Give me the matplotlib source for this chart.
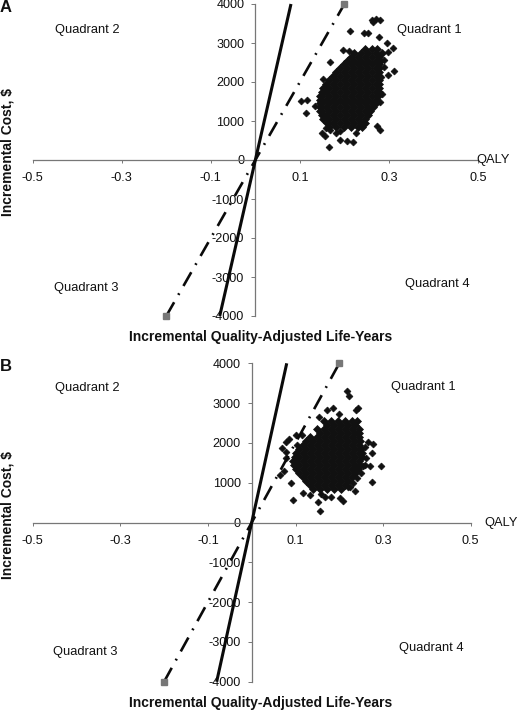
import numpy as np
import matplotlib
matplotlib.use("Agg")
import matplotlib.pyplot as plt

plt.rcParams['font.family'] = ['Liberation Sans', 'DejaVu Sans']
plt.rcParams['axes.unicode_minus'] = False

W, H = 528, 711

x_ticks = [-0.5, -0.3, -0.1, 0.1, 0.3, 0.5]
x_labels = ['-0.5', '-0.3', '-0.1', '0.1', '0.3', '0.5']
y_ticks = [-4000, -3000, -2000, -1000, 0, 1000, 2000, 3000, 4000]
y_labels = ['-4000', '-3000', '-2000', '-1000', '0', '1000', '2000', '3000', '4000']

line_solid_q = [-0.08, 0.08]
line_solid_c = [-4000, 4000]
line_dash_q = [-0.2, 0.2]
line_dash_c = [-4000, 4000]

a_core_costs = [2850, 2750, 2650, 2550, 2450, 2350, 2250, 2150, 2050, 1950, 1850,
                1750, 1650, 1550, 1450, 1350, 1250, 1150, 1050, 950, 850]
a_core_qalys = [
    [.246, .262, .274],
    [.222, .238, .254, .270, .284],
    [.214, .230, .246, .262, .278],
    [.206, .222, .238, .254, .270, .280],
    [.198, .214, .230, .246, .262, .278],
    [.190, .206, .222, .238, .254, .270, .278],
    [.182, .198, .214, .230, .246, .262, .278],
    [.174, .190, .206, .222, .238, .254, .270, .278],
    [.166, .182, .198, .214, .230, .246, .262, .278],
    [.158, .174, .190, .206, .222, .238, .254, .270, .278],
    [.152, .166, .182, .198, .214, .230, .246, .262, .278],
    [.150, .158, .174, .190, .206, .222, .238, .254, .270, .278],
    [.146, .150, .166, .182, .198, .214, .230, .246, .262, .276],
    [.146, .158, .174, .190, .206, .222, .238, .254, .270],
    [.146, .150, .166, .182, .198, .214, .230, .246, .262, .270],
    [.146, .158, .174, .190, .206, .222, .238, .254, .264],
    [.146, .150, .166, .182, .198, .214, .230, .246, .258],
    [.150, .158, .174, .190, .206, .222, .238, .254],
    [.152, .166, .182, .198, .214, .230, .246],
    [.160, .174, .190, .206, .222, .238, .246],
    [.166, .182, .198, .214, .230, .240],
]
a_out_q = [.262, .279, .264, .270, .213, .243, .252, .277, .296, .310, .298, .197, .168,
           .311, .298, .153, .102, .117, .114, .274, .281, .227, .149, .157, .190,
           .191, .206, .219, .166, .134, .158, .168, .180,
           .288, .283, .285, .281, .290, .210]
a_out_c = [3600, 3600, 3530, 3620, 3320, 3260, 3260, 3155, 3000, 2870, 2770, 2830, 2505,
           2275, 2190, 2085, 1505, 1550, 1205, 880, 760, 690, 690, 625, 750,
           505, 480, 460, 325, 1375, 820, 760, 700,
           2560, 2120, 1700, 1500, 2380, 2800]

b_core_costs = [2550, 2450, 2350, 2250, 2150, 2050, 1950, 1850, 1750, 1650, 1550,
                1450, 1350, 1250, 1150, 1050, 950, 850]
b_core_qalys = [
    [.164, .180, .196, .212, .228, .240],
    [.172, .188, .204, .220, .236],
    [.148, .164, .180, .196, .212, .228, .244],
    [.156, .172, .188, .204, .220, .236, .246],
    [.132, .148, .164, .180, .196, .212, .228, .244],
    [.124, .140, .156, .172, .188, .204, .220, .236, .248],
    [.116, .132, .148, .164, .180, .196, .212, .228, .244],
    [.108, .124, .140, .156, .172, .188, .204, .220, .236, .250],
    [.100, .116, .132, .148, .164, .180, .196, .212, .228, .244, .252],
    [.098, .108, .124, .140, .156, .172, .188, .204, .220, .236, .252],
    [.094, .100, .116, .132, .148, .164, .180, .196, .212, .228, .244],
    [.096, .108, .124, .140, .156, .172, .188, .204, .220, .236, .248],
    [.100, .116, .132, .148, .164, .180, .196, .212, .228, .242],
    [.108, .124, .140, .156, .172, .188, .204, .220, .236],
    [.116, .132, .148, .164, .180, .196, .212, .228],
    [.124, .140, .156, .172, .188, .204, .220],
    [.132, .148, .164, .180, .196, .212],
    [.140, .156, .172, .188, .204],
]
b_out_q = [.218, .222, .243, .238, .171, .186, .200, .154, .086, .079, .102, .114, .070,
           .079, .078, .276, .266, .275, .295, .271, .254, .064, .073, .089, .275, .235,
           .220, .117, .133, .095, .152, .156, .167, .182, .201, .209, .159,
           .258, .262, .258, .250, .240, .232, .225, .104]
b_out_c = [3310, 3170, 2880, 2815, 2830, 2870, 2730, 2645, 2100, 2015, 2200, 2200, 1875,
           1765, 1610, 1975, 2015, 1740, 1430, 1430, 1410, 1200, 1300, 990, 1010, 800,
           880, 730, 700, 560, 520, 295, 645, 645, 605, 545, 715,
           1900, 1620, 1450, 1250, 1120, 1000, 900, 1950]

fig = plt.figure(figsize=(W / 100, H / 100), dpi=100, facecolor='white')


def T(px, py, s, **kw):
    fig.text(px / W, 1 - py / H, s, ha=kw.pop('ha', 'center'), va='center', color='#111111', **kw)


def panel(left, right, top, bottom, core_c, core_q, out_q, out_c):
    ax = fig.add_axes([left / W, 1 - bottom / H, (right - left) / W, (bottom - top) / H])
    ax.set_xlim(-0.5, 0.5)
    ax.set_ylim(-4000, 4000)
    ax.patch.set_alpha(0)
    for s in ('top', 'right'):
        ax.spines[s].set_visible(False)
    for s in ('left', 'bottom'):
        ax.spines[s].set_position('zero')
        ax.spines[s].set_color('#777777')
        ax.spines[s].set_linewidth(0.9)
    ax.set_xticks(x_ticks, x_labels)
    ax.set_yticks(y_ticks, y_labels)
    ax.tick_params(axis='x', length=2.2, width=0.7, color='#777777', labelsize=9.1,
                   labelcolor='#111111', pad=6.5)
    ax.tick_params(axis='y', length=3, width=0.7, color='#777777', labelsize=9.1,
                   labelcolor='#111111', pad=5)
    qs = [q for row in core_q for q in row]
    cs = [c for c, row in zip(core_c, core_q) for _ in row]
    ax.plot(qs, cs, ls='none', marker='D', ms=4.1, mfc='#111111', mec='#111111', mew=0.5,
            clip_on=False, zorder=3)
    ax.plot(out_q, out_c, ls='none', marker='D', ms=3.5, mfc='#111111', mec='#111111', mew=0.5,
            clip_on=False, zorder=3)
    ax.plot(line_solid_q, line_solid_c, color='#0a0a0a', lw=2.2, solid_capstyle='butt',
            clip_on=False, zorder=4)
    ax.plot(line_dash_q, line_dash_c, color='#0a0a0a', lw=1.9, clip_on=False, zorder=4,
            dashes=(6.0, 3.2, 0.7, 3.2))
    ax.plot(line_dash_q, line_dash_c, ls='none', marker='s', ms=4.2, mfc='#777777',
            mec='#777777', clip_on=False, zorder=5)
    return ax


panel(32.7, 478, 4, 316, a_core_costs, a_core_qalys, a_out_q, a_out_c)
panel(32.7, 470.7, 363.3, 681.7, b_core_costs, b_core_qalys, b_out_q, b_out_c)

fs = 9.3
T(87, 30, 'Quadrant 2', fontsize=fs)
T(429, 30, 'Quadrant 1', fontsize=fs)
T(86, 288, 'Quadrant 3', fontsize=fs)
T(437, 284, 'Quadrant 4', fontsize=fs)
T(87, 388, 'Quadrant 2', fontsize=fs)
T(423, 387, 'Quadrant 1', fontsize=fs)
T(85, 652, 'Quadrant 3', fontsize=fs)
T(431, 648, 'Quadrant 4', fontsize=fs)
T(493, 160, 'QALY', fontsize=fs)
T(501, 523, 'QALY', fontsize=fs)

T(8, 152, 'Incremental Cost, $', fontsize=10, fontweight='bold', rotation=90)
T(8, 515, 'Incremental Cost, $', fontsize=10, fontweight='bold', rotation=90)
T(261, 337, 'Incremental Quality-Adjusted Life-Years', fontsize=10, fontweight='bold')
T(261, 703, 'Incremental Quality-Adjusted Life-Years', fontsize=10, fontweight='bold')
T(6, 7, 'A', fontsize=12, fontweight='bold')
T(6, 366, 'B', fontsize=12, fontweight='bold')

fig.savefig('out.png', dpi=100, facecolor='white')
